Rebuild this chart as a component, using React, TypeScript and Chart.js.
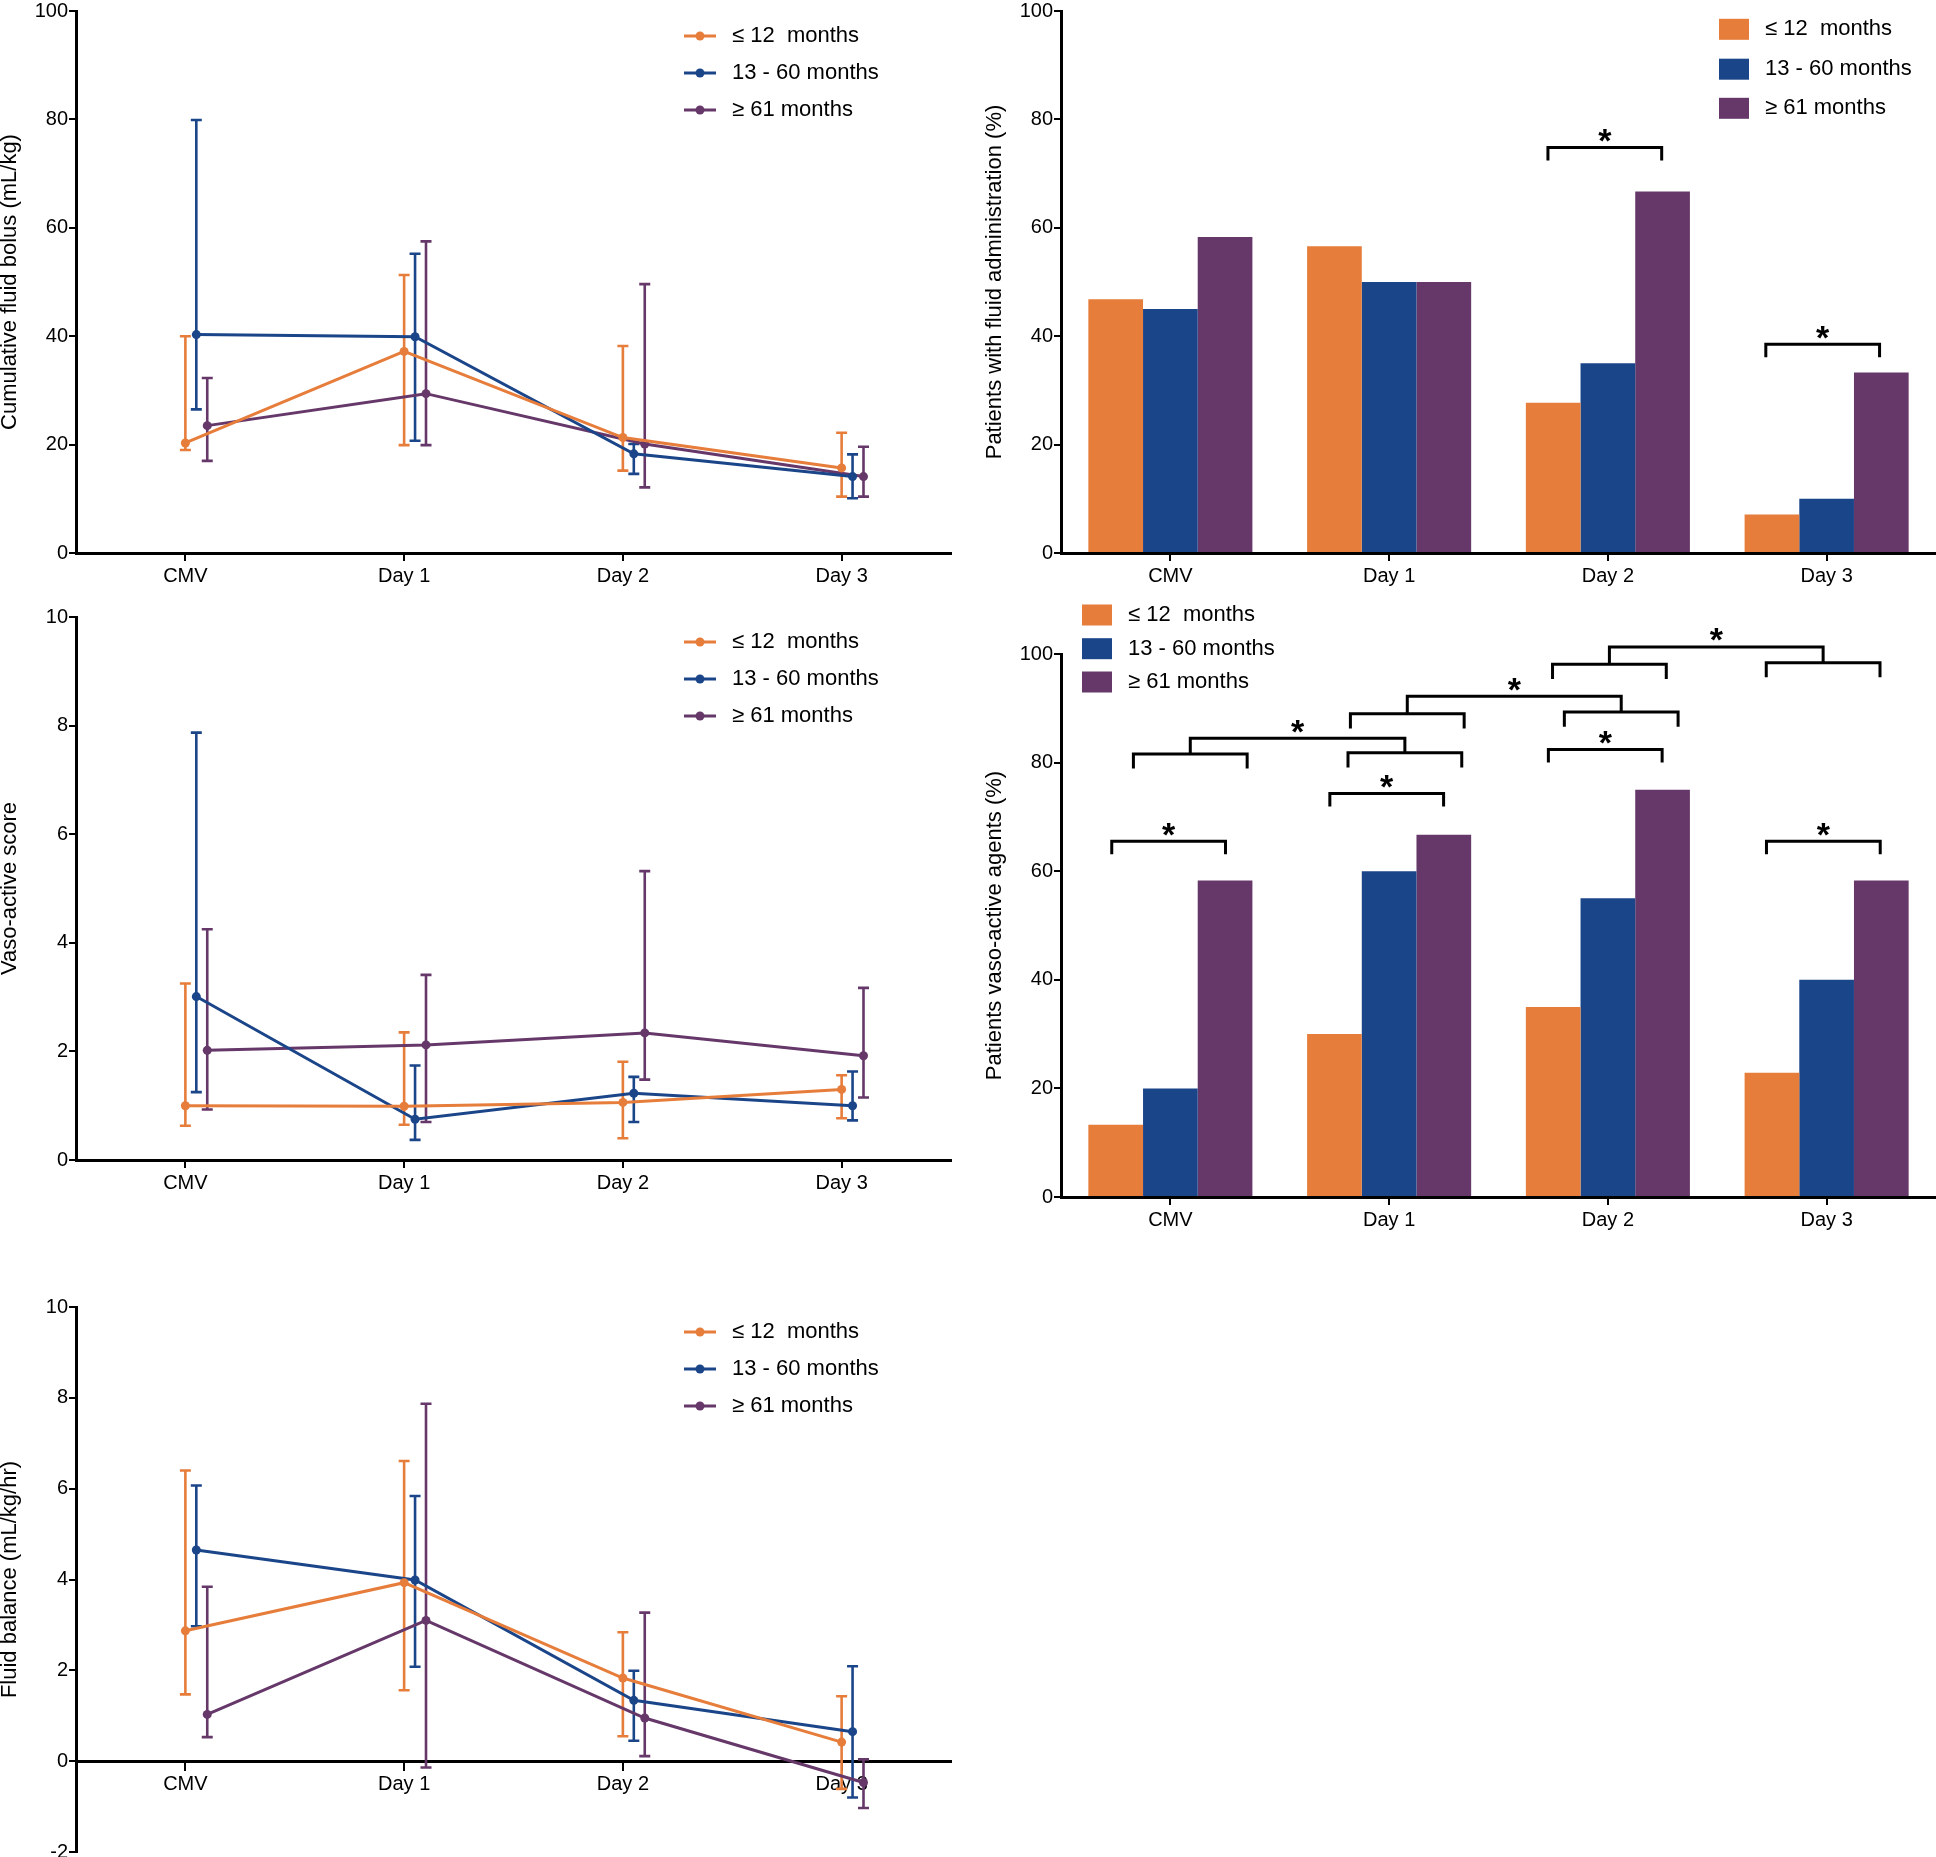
import React, { useEffect, useRef } from 'react';
import { Chart, registerables } from 'chart.js';

Chart.register(...registerables);

const FONT = "'Liberation Sans', Arial, Helvetica, sans-serif";

// ---------- shared labels ----------
const categories = ['CMV', 'Day 1', 'Day 2', 'Day 3'];
const groupLabels = ['\u2264 12  months', '13 - 60 months', '\u2265 61 months'];
const groupColors = ['#E67D3B', '#1B4589', '#66386A'];

// ---------- Cumulative fluid bolus (mL/kg) ----------
const bolusLe12 = [20.3, 37.2, 21.3, 15.7];
const bolusLe12Lo = [19.0, 19.9, 15.2, 10.4];
const bolusLe12Hi = [40.0, 51.3, 38.2, 22.2];
const bolus13to60 = [40.3, 39.9, 18.3, 14.1];
const bolus13to60Lo = [26.5, 20.7, 14.6, 10.1];
const bolus13to60Hi = [79.9, 55.2, 20.1, 18.2];
const bolusGe61 = [23.5, 29.4, 20.1, 14.1];
const bolusGe61Lo = [17.0, 19.9, 12.1, 10.4];
const bolusGe61Hi = [32.3, 57.5, 49.6, 19.6];

// ---------- Vaso-active score ----------
const vasScoreLe12 = [1.0, 0.99, 1.06, 1.3];
const vasScoreLe12Lo = [0.63, 0.65, 0.4, 0.77];
const vasScoreLe12Hi = [3.25, 2.35, 1.81, 1.56];
const vasScore13to60 = [3.01, 0.75, 1.23, 1.0];
const vasScore13to60Lo = [1.25, 0.37, 0.7, 0.73];
const vasScore13to60Hi = [7.87, 1.74, 1.53, 1.63];
const vasScoreGe61 = [2.02, 2.12, 2.34, 1.92];
const vasScoreGe61Lo = [0.93, 0.7, 1.48, 1.15];
const vasScoreGe61Hi = [4.25, 3.41, 5.32, 3.17];

// ---------- Fluid balance (mL/kg/hr) ----------
const balanceLe12 = [2.87, 3.93, 1.83, 0.42];
const balanceLe12Lo = [1.47, 1.56, 0.55, -0.61];
const balanceLe12Hi = [6.4, 6.61, 2.84, 1.43];
const balance13to60 = [4.65, 3.99, 1.34, 0.65];
const balance13to60Lo = [2.97, 2.08, 0.45, -0.8];
const balance13to60Hi = [6.07, 5.84, 1.99, 2.09];
const balanceGe61 = [1.03, 3.1, 0.95, -0.47];
const balanceGe61Lo = [0.53, -0.14, 0.11, -1.03];
const balanceGe61Hi = [3.84, 7.87, 3.27, 0.04];

// ---------- Patients with fluid administration (%) ----------
const fluidAdminLe12 = [46.8, 56.6, 27.7, 7.1];
const fluidAdmin13to60 = [45.0, 50.0, 35.0, 10.0];
const fluidAdminGe61 = [58.3, 50.0, 66.7, 33.3];

// ---------- Patients vaso-active agents (%) ----------
const vasoAgentsLe12 = [13.3, 30.0, 35.0, 22.9];
const vasoAgents13to60 = [20.0, 60.0, 55.0, 40.0];
const vasoAgentsGe61 = [58.3, 66.7, 75.0, 58.3];

// ---------- significance annotations (value units) ----------
const fluidSimpleBrackets = [
  { cat: 2, top: 74.8, shift: -0.014 },
  { cat: 3, top: 38.5, shift: -0.018 },
];
const vasoSimpleBrackets = [
  { cat: 0, top: 65.5, shift: -0.008 },
  { cat: 1, top: 74.3, shift: -0.011 },
  { cat: 2, top: 82.4, shift: -0.012 },
  { cat: 3, top: 65.5, shift: -0.015 },
];
const vasoGroupBrackets = [
  { from: 0, to: 1, shiftFrom: 0.091, shiftTo: 0.072, subTopFrom: 81.6, subTopTo: 81.8, top: 84.5 },
  { from: 1, to: 2, shiftFrom: 0.083, shiftTo: 0.061, subTopFrom: 89.0, subTopTo: 89.3, top: 92.2 },
  { from: 2, to: 3, shiftFrom: 0.007, shiftTo: -0.016, subTopFrom: 98.1, subTopTo: 98.4, top: 101.3 },
];

const pointDodge = [0, 0.05, 0.1];

type Series = { mean: number[]; lo: number[]; hi: number[] };

const tickFont = { family: FONT, size: 20 };
const titleFont = { family: FONT, size: 22 };

function yAxis(min: number, max: number, step: number, title: string) {
  return {
    min,
    max,
    ticks: { stepSize: step, font: tickFont, color: '#000', padding: 1 },
    grid: { drawOnChartArea: false, drawTicks: true, tickLength: 7, color: '#000', lineWidth: 2 },
    border: { display: true, color: '#000', width: 3 },
    title: { display: true, text: title, font: titleFont, color: '#000', padding: { top: -3, bottom: 0 } },
    afterFit: (s: any) => {
      s.width = 76;
    },
  };
}

function makeErrorBars(series: Series[]) {
  return {
    id: 'errorBars',
    beforeDatasetsDraw(chart: any) {
      const ctx = chart.ctx;
      const ys = chart.scales.y;
      series.forEach((s, k) => {
        const meta = chart.getDatasetMeta(k);
        ctx.save();
        ctx.strokeStyle = groupColors[k];
        ctx.lineWidth = 2.6;
        meta.data.forEach((pt: any, i: number) => {
          const x = pt.x;
          const y1 = ys.getPixelForValue(s.lo[i]);
          const y2 = ys.getPixelForValue(s.hi[i]);
          ctx.beginPath();
          ctx.moveTo(x, y1);
          ctx.lineTo(x, y2);
          ctx.moveTo(x - 5.5, y1);
          ctx.lineTo(x + 5.5, y1);
          ctx.moveTo(x - 5.5, y2);
          ctx.lineTo(x + 5.5, y2);
          ctx.stroke();
        });
        ctx.restore();
      });
    },
  };
}

const lineLegend = {
  id: 'lineLegend',
  afterDraw(chart: any) {
    const { ctx, chartArea } = chart;
    groupLabels.forEach((label, k) => {
      const yy = chartArea.top + 25 + 37 * k;
      const x0 = chartArea.left + 608;
      ctx.save();
      ctx.strokeStyle = groupColors[k];
      ctx.lineWidth = 3;
      ctx.beginPath();
      ctx.moveTo(x0, yy);
      ctx.lineTo(x0 + 32, yy);
      ctx.stroke();
      ctx.fillStyle = groupColors[k];
      ctx.beginPath();
      ctx.arc(x0 + 16, yy, 4.5, 0, Math.PI * 2);
      ctx.fill();
      ctx.fillStyle = '#000';
      ctx.font = `22px ${FONT}`;
      ctx.textBaseline = 'middle';
      ctx.textAlign = 'left';
      ctx.fillText(label, x0 + 48, yy);
      ctx.restore();
    });
  },
};

function makeBarLegend(dx: number, rows: number[], boxW: number, boxH: number, textDx: number) {
  return {
    id: 'barLegend',
    afterDraw(chart: any) {
      const { ctx, chartArea } = chart;
      groupLabels.forEach((label, k) => {
        const yy = chartArea.top + rows[k];
        const x0 = chartArea.left + dx;
        ctx.save();
        ctx.fillStyle = groupColors[k];
        ctx.fillRect(x0, yy - boxH / 2, boxW, boxH);
        ctx.fillStyle = '#000';
        ctx.font = `22px ${FONT}`;
        ctx.textBaseline = 'middle';
        ctx.textAlign = 'left';
        ctx.fillText(label, x0 + textDx, yy);
        ctx.restore();
      });
    },
  };
}

type Simple = { cat: number; top: number; shift: number };
type Group = { from: number; to: number; shiftFrom: number; shiftTo: number; subTopFrom: number; subTopTo: number; top: number };

function makeBrackets(simple: Simple[], groups: Group[]) {
  const HALF = 0.26;
  const SIMPLE_LEG = 2.4;
  const SUB_LEG = 2.7;
  return {
    id: 'brackets',
    afterDatasetsDraw(chart: any) {
      const ctx = chart.ctx;
      const xs = chart.scales.x;
      const ys = chart.scales.y;
      ctx.save();
      ctx.strokeStyle = '#000';
      ctx.fillStyle = '#000';
      ctx.lineWidth = 3;
      ctx.lineJoin = 'miter';
      ctx.lineCap = 'butt';
      const bracket = (c: number, top: number, leg: number) => {
        const xl = xs.getPixelForValue(c - HALF);
        const xr = xs.getPixelForValue(c + HALF);
        const yt = ys.getPixelForValue(top);
        const yb = ys.getPixelForValue(top - leg);
        ctx.beginPath();
        ctx.moveTo(xl, yb);
        ctx.lineTo(xl, yt);
        ctx.lineTo(xr, yt);
        ctx.lineTo(xr, yb);
        ctx.stroke();
        return (xl + xr) / 2;
      };
      const star = (x: number, top: number) => {
        ctx.font = `bold 34px ${FONT}`;
        ctx.textAlign = 'center';
        ctx.textBaseline = 'middle';
        ctx.fillText('*', x, ys.getPixelForValue(top) - 5);
      };
      simple.forEach((b) => {
        const xc = bracket(b.cat + b.shift, b.top, SIMPLE_LEG);
        star(xc, b.top);
      });
      groups.forEach((g) => {
        const xa = bracket(g.from + g.shiftFrom, g.subTopFrom, SUB_LEG);
        const xb = bracket(g.to + g.shiftTo, g.subTopTo, SUB_LEG);
        const yt = ys.getPixelForValue(g.top);
        ctx.beginPath();
        ctx.moveTo(xa, ys.getPixelForValue(g.subTopFrom));
        ctx.lineTo(xa, yt);
        ctx.lineTo(xb, yt);
        ctx.lineTo(xb, ys.getPixelForValue(g.subTopTo));
        ctx.stroke();
        star((xa + xb) / 2, g.top);
      });
      ctx.restore();
    },
  };
}

function lineConfig(series: Series[], yMin: number, yMax: number, yStep: number, yTitle: string, xAtZero: boolean, padding: any) {
  return {
    type: 'line',
    data: {
      datasets: series.map((s, k) => ({
        label: groupLabels[k],
        data: s.mean.map((v, i) => ({ x: i + pointDodge[k], y: v })),
        borderColor: groupColors[k],
        backgroundColor: groupColors[k],
        borderWidth: 3,
        pointRadius: 4.5,
        pointHoverRadius: 4.5,
        pointBorderWidth: 0,
        tension: 0,
        clip: false,
      })),
    },
    options: {
      responsive: false,
      animation: false,
      devicePixelRatio: 1,
      events: [],
      layout: { padding },
      plugins: { legend: { display: false }, tooltip: { enabled: false } },
      scales: {
        x: {
          type: 'linear',
          min: -0.5,
          max: categories.length - 0.5,
          position: xAtZero ? { y: 0 } : 'bottom',
          afterBuildTicks: (s: any) => {
            s.ticks = categories.map((_, i) => ({ value: i }));
          },
          ticks: {
            font: tickFont,
            color: '#000',
            padding: 3,
            autoSkip: false,
            maxRotation: 0,
            callback: (v: number) => categories[Math.round(v)] ?? '',
          },
          grid: { drawOnChartArea: false, drawTicks: true, tickLength: 8, color: '#000', lineWidth: 2 },
          border: { display: true, color: '#000', width: 3 },
          afterFit: (s: any) => {
            s.height = xAtZero ? 0 : 40;
          },
        },
        y: yAxis(yMin, yMax, yStep, yTitle),
      },
    },
    plugins: [makeErrorBars(series), lineLegend],
  };
}

function barConfig(values: number[][], yTitle: string, padding: any, extraPlugins: any[]) {
  return {
    type: 'bar',
    data: {
      labels: categories,
      datasets: values.map((vals, k) => ({
        label: groupLabels[k],
        data: vals,
        backgroundColor: groupColors[k],
        borderWidth: 0,
        barPercentage: 1.0,
        categoryPercentage: 0.75,
      })),
    },
    options: {
      responsive: false,
      animation: false,
      devicePixelRatio: 1,
      events: [],
      layout: { padding },
      plugins: { legend: { display: false }, tooltip: { enabled: false } },
      scales: {
        x: {
          type: 'category',
          offset: true,
          ticks: { font: tickFont, color: '#000', padding: 3, maxRotation: 0 },
          grid: { offset: false, drawOnChartArea: false, drawTicks: true, tickLength: 8, color: '#000', lineWidth: 2 },
          border: { display: true, color: '#000', width: 3 },
          afterFit: (s: any) => {
            s.height = 40;
          },
        },
        y: yAxis(0, 100, 20, yTitle),
      },
    },
    plugins: extraPlugins,
  };
}

function ChartCanvas({ left, top, width, height, make }: { left: number; top: number; width: number; height: number; make: () => any }) {
  const ref = useRef<HTMLCanvasElement>(null);
  useEffect(() => {
    const chart = new Chart(ref.current as HTMLCanvasElement, make());
    return () => chart.destroy();
  }, []);
  return (
    <canvas
      ref={ref}
      width={width}
      height={height}
      style={{ position: 'absolute', left, top, width, height }}
    />
  );
}

export default function App() {
  const bolusSeries: Series[] = [
    { mean: bolusLe12, lo: bolusLe12Lo, hi: bolusLe12Hi },
    { mean: bolus13to60, lo: bolus13to60Lo, hi: bolus13to60Hi },
    { mean: bolusGe61, lo: bolusGe61Lo, hi: bolusGe61Hi },
  ];
  const scoreSeries: Series[] = [
    { mean: vasScoreLe12, lo: vasScoreLe12Lo, hi: vasScoreLe12Hi },
    { mean: vasScore13to60, lo: vasScore13to60Lo, hi: vasScore13to60Hi },
    { mean: vasScoreGe61, lo: vasScoreGe61Lo, hi: vasScoreGe61Hi },
  ];
  const balanceSeries: Series[] = [
    { mean: balanceLe12, lo: balanceLe12Lo, hi: balanceLe12Hi },
    { mean: balance13to60, lo: balance13to60Lo, hi: balance13to60Hi },
    { mean: balanceGe61, lo: balanceGe61Lo, hi: balanceGe61Hi },
  ];

  return (
    <div
      style={{
        position: 'absolute',
        left: 0,
        top: 0,
        width: 1936,
        height: 1857,
        overflow: 'hidden',
        background: '#fff',
      }}
    >
      <ChartCanvas
        left={0}
        top={-9}
        width={961}
        height={602}
        make={() =>
          lineConfig(bolusSeries, 0, 100, 20, 'Cumulative fluid bolus (mL/kg)', false, { left: 0, top: 20, right: 10, bottom: 0 })
        }
      />
      <ChartCanvas
        left={985}
        top={-9}
        width={951}
        height={602}
        make={() =>
          barConfig(
            [fluidAdminLe12, fluidAdmin13to60, fluidAdminGe61],
            'Patients with fluid administration (%)',
            { left: 0, top: 20, right: 0, bottom: 0 },
            [makeBarLegend(658, [18.3, 58.2, 97.3], 30, 21, 46), makeBrackets(fluidSimpleBrackets, [])]
          )
        }
      />
      <ChartCanvas
        left={0}
        top={597}
        width={961}
        height={603}
        make={() => lineConfig(scoreSeries, 0, 10, 2, 'Vaso-active score', false, { left: 0, top: 20, right: 10, bottom: 0 })}
      />
      <ChartCanvas
        left={985}
        top={590}
        width={951}
        height={647}
        make={() =>
          barConfig(
            [vasoAgentsLe12, vasoAgents13to60, vasoAgentsGe61],
            'Patients vaso-active agents (%)',
            { left: 0, top: 64, right: 0, bottom: 0 },
            [makeBarLegend(21, [-39, -5.3, 28], 30, 21, 46), makeBrackets(vasoSimpleBrackets, vasoGroupBrackets)]
          )
        }
      />
      <ChartCanvas
        left={0}
        top={1287}
        width={961}
        height={579}
        make={() =>
          lineConfig(balanceSeries, -2, 10, 2, 'Fluid balance (mL/kg/hr)', true, { left: 0, top: 20, right: 10, bottom: 14 })
        }
      />
    </div>
  );
}
